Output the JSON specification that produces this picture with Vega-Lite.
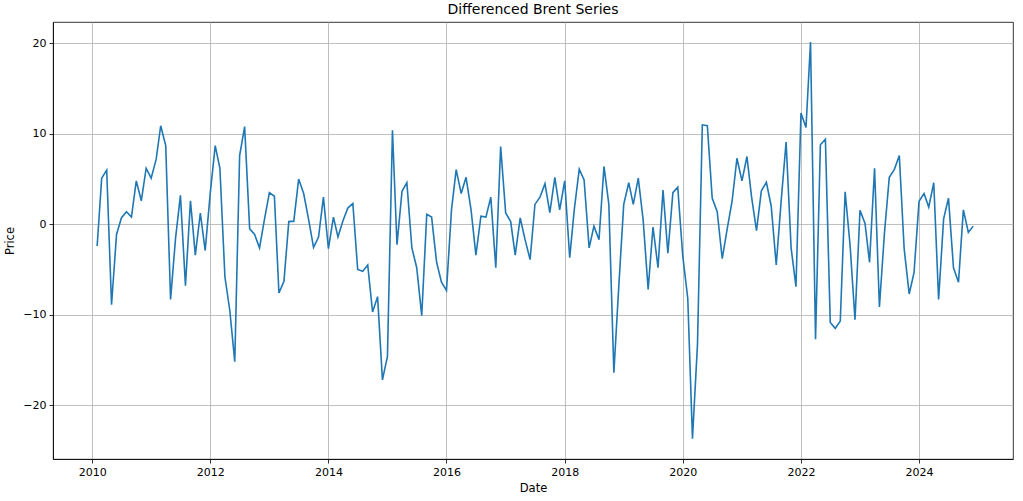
{
  "$schema": "https://vega.github.io/schema/vega-lite/v6.json",
  "autosize": {"type": "none"},
  "padding": {"left": 53, "top": 22, "right": 10, "bottom": 42},
  "width": 960,
  "height": 437,
  "background": "white",
  "title": {"text": "Differenced Brent Series", "fontSize": 14, "fontWeight": "normal", "font": "DejaVu Sans", "color": "black", "offset": 5},
  "config": {
    "font": "DejaVu Sans",
    "view": {"stroke": "black", "strokeWidth": 0.8},
    "axis": {
      "labelFont": "DejaVu Sans", "labelFontSize": 11, "labelColor": "black",
      "titleFont": "DejaVu Sans", "titleFontSize": 11.5, "titleFontWeight": "normal", "titleColor": "black",
      "tickColor": "black", "tickSize": 4, "tickWidth": 0.8,
      "domainColor": "black", "domainWidth": 0.8,
      "gridColor": "#b0b0b0", "gridWidth": 0.8, "gridOpacity": 1,
      "labelPadding": 3
    }
  },
  "data": {"values": [
    {"date":"2010-02-01","price":-2.4},{"date":"2010-03-01","price":5.1},{"date":"2010-04-01","price":6.0},{"date":"2010-05-01","price":-8.9},{"date":"2010-06-01","price":-1.1},{"date":"2010-07-01","price":0.7},{"date":"2010-08-01","price":1.4},{"date":"2010-09-01","price":0.8},{"date":"2010-10-01","price":4.8},{"date":"2010-11-01","price":2.6},{"date":"2010-12-01","price":6.2},
    {"date":"2011-01-01","price":5.1},{"date":"2011-02-01","price":7.2},{"date":"2011-03-01","price":10.9},{"date":"2011-04-01","price":8.7},{"date":"2011-05-01","price":-8.3},{"date":"2011-06-01","price":-1.5},{"date":"2011-07-01","price":3.2},{"date":"2011-08-01","price":-6.8},{"date":"2011-09-01","price":2.6},{"date":"2011-10-01","price":-3.4},{"date":"2011-11-01","price":1.25},{"date":"2011-12-01","price":-2.9},
    {"date":"2012-01-01","price":3.4},{"date":"2012-02-01","price":8.7},{"date":"2012-03-01","price":6.2},{"date":"2012-04-01","price":-5.8},{"date":"2012-05-01","price":-9.5},{"date":"2012-06-01","price":-15.2},{"date":"2012-07-01","price":7.6},{"date":"2012-08-01","price":10.8},{"date":"2012-09-01","price":-0.5},{"date":"2012-10-01","price":-1.1},{"date":"2012-11-01","price":-2.6},{"date":"2012-12-01","price":0.5},
    {"date":"2013-01-01","price":3.5},{"date":"2013-02-01","price":3.1},{"date":"2013-03-01","price":-7.6},{"date":"2013-04-01","price":-6.3},{"date":"2013-05-01","price":0.3},{"date":"2013-06-01","price":0.35},{"date":"2013-07-01","price":5.0},{"date":"2013-08-01","price":3.4},{"date":"2013-09-01","price":0.5},{"date":"2013-10-01","price":-2.55},{"date":"2013-11-01","price":-1.4},{"date":"2013-12-01","price":3.0},
    {"date":"2014-01-01","price":-2.7},{"date":"2014-02-01","price":0.8},{"date":"2014-03-01","price":-1.4},{"date":"2014-04-01","price":0.4},{"date":"2014-05-01","price":1.8},{"date":"2014-06-01","price":2.3},{"date":"2014-07-01","price":-5.0},{"date":"2014-08-01","price":-5.2},{"date":"2014-09-01","price":-4.5},{"date":"2014-10-01","price":-9.7},{"date":"2014-11-01","price":-8.0},{"date":"2014-12-01","price":-17.2},
    {"date":"2015-01-01","price":-14.6},{"date":"2015-02-01","price":10.4},{"date":"2015-03-01","price":-2.25},{"date":"2015-04-01","price":3.65},{"date":"2015-05-01","price":4.6},{"date":"2015-06-01","price":-2.6},{"date":"2015-07-01","price":-4.8},{"date":"2015-08-01","price":-10.1},{"date":"2015-09-01","price":1.1},{"date":"2015-10-01","price":0.8},{"date":"2015-11-01","price":-4.2},{"date":"2015-12-01","price":-6.4},
    {"date":"2016-01-01","price":-7.3},{"date":"2016-02-01","price":1.6},{"date":"2016-03-01","price":6.05},{"date":"2016-04-01","price":3.4},{"date":"2016-05-01","price":5.2},{"date":"2016-06-01","price":1.6},{"date":"2016-07-01","price":-3.4},{"date":"2016-08-01","price":0.9},{"date":"2016-09-01","price":0.8},{"date":"2016-10-01","price":3.0},{"date":"2016-11-01","price":-4.8},{"date":"2016-12-01","price":8.6},
    {"date":"2017-01-01","price":1.25},{"date":"2017-02-01","price":0.3},{"date":"2017-03-01","price":-3.4},{"date":"2017-04-01","price":0.7},{"date":"2017-05-01","price":-1.7},{"date":"2017-06-01","price":-3.9},{"date":"2017-07-01","price":2.2},{"date":"2017-08-01","price":3.0},{"date":"2017-09-01","price":4.5},{"date":"2017-10-01","price":1.3},{"date":"2017-11-01","price":5.2},{"date":"2017-12-01","price":1.6},
    {"date":"2018-01-01","price":4.8},{"date":"2018-02-01","price":-3.7},{"date":"2018-03-01","price":1.6},{"date":"2018-04-01","price":6.1},{"date":"2018-05-01","price":4.9},{"date":"2018-06-01","price":-2.6},{"date":"2018-07-01","price":-0.2},{"date":"2018-08-01","price":-1.7},{"date":"2018-09-01","price":6.4},{"date":"2018-10-01","price":2.2},{"date":"2018-11-01","price":-16.4},{"date":"2018-12-01","price":-7.0},
    {"date":"2019-01-01","price":2.2},{"date":"2019-02-01","price":4.6},{"date":"2019-03-01","price":2.2},{"date":"2019-04-01","price":5.1},{"date":"2019-05-01","price":0.5},{"date":"2019-06-01","price":-7.2},{"date":"2019-07-01","price":-0.3},{"date":"2019-08-01","price":-4.8},{"date":"2019-09-01","price":3.8},{"date":"2019-10-01","price":-3.2},{"date":"2019-11-01","price":3.5},{"date":"2019-12-01","price":4.1},
    {"date":"2020-01-01","price":-3.5},{"date":"2020-02-01","price":-8.2},{"date":"2020-03-01","price":-23.7},{"date":"2020-04-01","price":-13.3},{"date":"2020-05-01","price":11.0},{"date":"2020-06-01","price":10.9},{"date":"2020-07-01","price":2.9},{"date":"2020-08-01","price":1.4},{"date":"2020-09-01","price":-3.8},{"date":"2020-10-01","price":-0.6},{"date":"2020-11-01","price":2.55},{"date":"2020-12-01","price":7.3},
    {"date":"2021-01-01","price":4.8},{"date":"2021-02-01","price":7.5},{"date":"2021-03-01","price":3.1},{"date":"2021-04-01","price":-0.7},{"date":"2021-05-01","price":3.7},{"date":"2021-06-01","price":4.65},{"date":"2021-07-01","price":2.0},{"date":"2021-08-01","price":-4.5},{"date":"2021-09-01","price":2.7},{"date":"2021-10-01","price":9.1},{"date":"2021-11-01","price":-2.6},{"date":"2021-12-01","price":-6.9},
    {"date":"2022-01-01","price":12.3},{"date":"2022-02-01","price":10.7},{"date":"2022-03-01","price":20.15},{"date":"2022-04-01","price":-12.7},{"date":"2022-05-01","price":8.8},{"date":"2022-06-01","price":9.4},{"date":"2022-07-01","price":-10.85},{"date":"2022-08-01","price":-11.5},{"date":"2022-09-01","price":-10.7},{"date":"2022-10-01","price":3.6},{"date":"2022-11-01","price":-2.4},{"date":"2022-12-01","price":-10.55},
    {"date":"2023-01-01","price":1.55},{"date":"2023-02-01","price":0.1},{"date":"2023-03-01","price":-4.2},{"date":"2023-04-01","price":6.2},{"date":"2023-05-01","price":-9.15},{"date":"2023-06-01","price":-1.0},{"date":"2023-07-01","price":5.2},{"date":"2023-08-01","price":6.05},{"date":"2023-09-01","price":7.6},{"date":"2023-10-01","price":-2.7},{"date":"2023-11-01","price":-7.7},{"date":"2023-12-01","price":-5.35},
    {"date":"2024-01-01","price":2.55},{"date":"2024-02-01","price":3.4},{"date":"2024-03-01","price":1.9},{"date":"2024-04-01","price":4.6},{"date":"2024-05-01","price":-8.3},{"date":"2024-06-01","price":0.6},{"date":"2024-07-01","price":2.9},{"date":"2024-08-01","price":-4.8},{"date":"2024-09-01","price":-6.4},{"date":"2024-10-01","price":1.6},{"date":"2024-11-01","price":-0.9},{"date":"2024-12-01","price":-0.2}
  ]},
  "mark": {"type": "line", "color": "#1f77b4", "strokeWidth": 1.6, "clip": true},
  "encoding": {
    "x": {
      "field": "date", "type": "temporal", "title": "Date",
      "scale": {"type": "utc", "domain": [{"year": 2009, "month": 5, "date": 4, "utc": true}, {"year": 2025, "month": 8, "date": 4, "utc": true}], "nice": false},
      "axis": {
        "values": [
          {"year": 2010, "month": 1, "date": 1, "utc": true},
          {"year": 2012, "month": 1, "date": 1, "utc": true},
          {"year": 2014, "month": 1, "date": 1, "utc": true},
          {"year": 2016, "month": 1, "date": 1, "utc": true},
          {"year": 2018, "month": 1, "date": 1, "utc": true},
          {"year": 2020, "month": 1, "date": 1, "utc": true},
          {"year": 2022, "month": 1, "date": 1, "utc": true},
          {"year": 2024, "month": 1, "date": 1, "utc": true}
        ],
        "format": "%Y", "formatType": "utc", "labelFlush": false, "labelOverlap": false,
        "grid": true, "titlePadding": 5
      }
    },
    "y": {
      "field": "price", "type": "quantitative", "title": "Price",
      "scale": {"domain": [-25.95, 22.37], "nice": false, "zero": false},
      "axis": {"values": [-20, -10, 0, 10, 20], "grid": true, "titlePadding": 7, "labelFlush": false}
    }
  }
}
